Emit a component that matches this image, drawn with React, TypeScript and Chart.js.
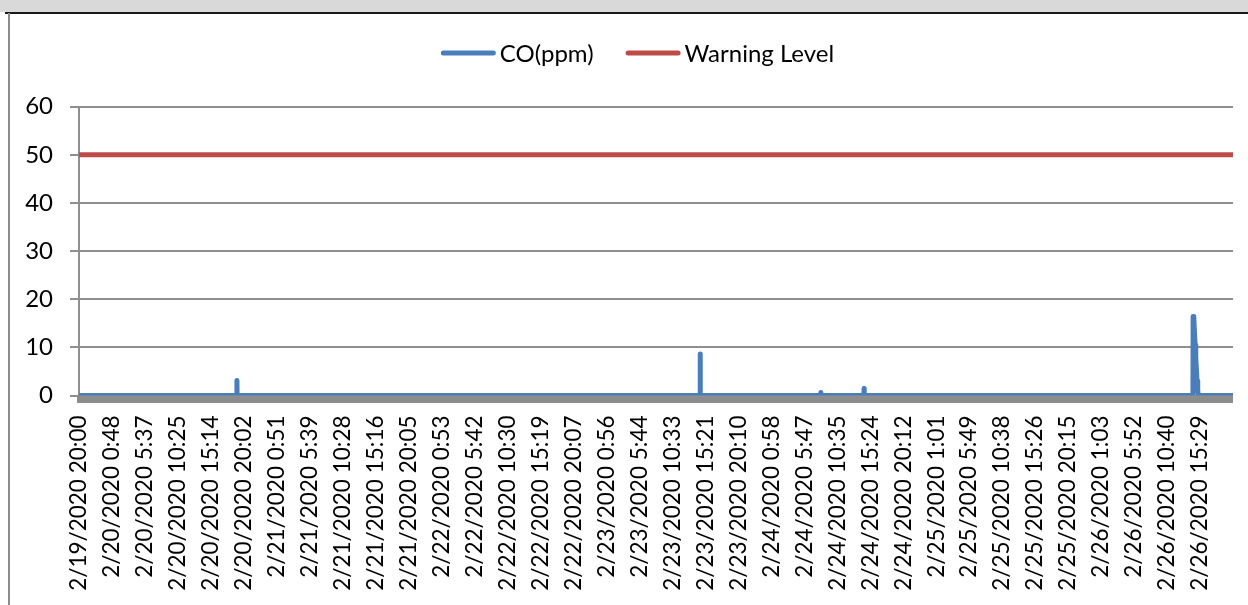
import React, { useEffect, useRef } from "react";
import { Chart, registerables } from "chart.js";

Chart.register(...registerables);

const tickLabels = [
  "2/19/2020 20:00", "2/20/2020 0:48", "2/20/2020 5:37", "2/20/2020 10:25", "2/20/2020 15:14",
  "2/20/2020 20:02", "2/21/2020 0:51", "2/21/2020 5:39", "2/21/2020 10:28", "2/21/2020 15:16",
  "2/21/2020 20:05", "2/22/2020 0:53", "2/22/2020 5:42", "2/22/2020 10:30", "2/22/2020 15:19",
  "2/22/2020 20:07", "2/23/2020 0:56", "2/23/2020 5:44", "2/23/2020 10:33", "2/23/2020 15:21",
  "2/23/2020 20:10", "2/24/2020 0:58", "2/24/2020 5:47", "2/24/2020 10:35", "2/24/2020 15:24",
  "2/24/2020 20:12", "2/25/2020 1:01", "2/25/2020 5:49", "2/25/2020 10:38", "2/25/2020 15:26",
  "2/25/2020 20:15", "2/26/2020 1:03", "2/26/2020 5:52", "2/26/2020 10:40", "2/26/2020 15:29",
];

// x positions in label-interval units (0 = first label)
const coX = [
  0, 4.785, 4.79, 4.795,
  18.835, 18.84, 18.845,
  22.49, 22.5, 22.51,
  23.805, 23.81, 23.815,
  33.785, 33.79, 33.81, 33.83, 33.85, 33.87, 33.89, 33.91, 33.93, 33.95,
  35,
];
const coY = [
  0, 0, 3.1, 0,
  0, 8.6, 0,
  0, 0.6, 0,
  0, 1.45, 0,
  0, 16.4, 16.3, 13.5, 10.5, 8, 5.5, 3, 1, 0,
  0,
];
const warnX = [0, 35];
const warnY = [50, 50];
const yTicks = [0, 10, 20, 30, 40, 50, 60];

const FONT = "Lato";
const FS = 24;
const XFS = 22.5;

const legendPlugin = {
  id: "excelLegend",
  afterDraw(chart: any) {
    const ctx = chart.ctx;
    const ds = chart.data.datasets;
    ctx.save();
    ctx.font = `${FS}px ${FONT}`;
    const lineLen = 55, gap = 4, itemGap = 32;
    const widths = ds.map((d: any) => lineLen + gap + ctx.measureText(d.label).width);
    const total = widths.reduce((a: number, b: number) => a + b, 0) + itemGap * (ds.length - 1);
    let x = 627.5 - total / 2;
    const y = 39;
    ds.forEach((d: any, i: number) => {
      ctx.strokeStyle = d.borderColor;
      ctx.lineWidth = 5;
      ctx.lineCap = "round";
      ctx.beginPath();
      ctx.moveTo(x + 2.5, y);
      ctx.lineTo(x + lineLen - 2.5, y);
      ctx.stroke();
      ctx.fillStyle = "#000";
      ctx.textBaseline = "middle";
      ctx.textAlign = "left";
      ctx.fillText(d.label, x + lineLen + gap, y + 1);
      x += widths[i] + itemGap;
    });
    ctx.restore();
  },
};

const axisBandPlugin = {
  id: "axisBand",
  beforeDatasetsDraw(chart: any) {
    const { ctx, chartArea } = chart;
    ctx.save();
    ctx.fillStyle = "#8c8c8c";
    ctx.fillRect(chartArea.left - 2, chartArea.bottom + 1.5, chartArea.right - chartArea.left + 2, 6);
    ctx.restore();
  },
};

export default function App() {
  const ref = useRef<HTMLCanvasElement>(null);

  useEffect(() => {
    if (!ref.current) return;
    const chart = new Chart(ref.current, {
      type: "line",
      data: {
        datasets: [
          {
            label: "CO(ppm)",
            data: coX.map((x, i) => ({ x, y: coY[i] })),
            borderColor: "#4a7ebb",
            backgroundColor: "#4a7ebb",
            borderWidth: 5,
            pointRadius: 0,
            borderJoinStyle: "round",
            borderCapStyle: "round",
            tension: 0,
          },
          {
            label: "Warning Level",
            data: warnX.map((x, i) => ({ x, y: warnY[i] })),
            borderColor: "#be4b48",
            backgroundColor: "#be4b48",
            borderWidth: 5,
            pointRadius: 0,
            borderCapStyle: "butt",
          },
        ],
      },
      options: {
        animation: false,
        responsive: false,
        devicePixelRatio: 1,
        layout: { padding: { top: 92.7, right: 15, left: 0, bottom: 0 } },
        plugins: {
          legend: { display: false },
          tooltip: { enabled: false },
        },
        scales: {
          x: {
            type: "linear",
            min: 0,
            max: 35,
            afterBuildTicks: (scale: any) => {
              scale.ticks = tickLabels.map((_, i) => ({ value: i }));
            },
            afterFit: (scale: any) => {
              scale.height = 209.5;
            },
            grid: { display: false, drawTicks: false },
            border: { display: false },
            ticks: {
              autoSkip: false,
              maxRotation: 90,
              minRotation: 90,
              padding: 20,
              color: "#000",
              font: { family: FONT, size: XFS },
              callback: (v: any) => tickLabels[v] ?? "",
            },
          },
          y: {
            min: 0,
            max: 60,
            afterBuildTicks: (scale: any) => {
              scale.ticks = yTicks.map((v) => ({ value: v }));
            },
            afterFit: (scale: any) => {
              scale.width = 69;
            },
            grid: { color: "#8f8f8f", lineWidth: 2, tickLength: 9 },
            border: { color: "#8f8f8f", width: 2 },
            ticks: {
              padding: 17,
              crossAlign: "near",
              color: "#000",
              font: { family: FONT, size: FS },
            },
          },
        },
      },
      plugins: [axisBandPlugin, legendPlugin],
    } as any);
    return () => chart.destroy();
  }, []);

  return (
    <div style={{ position: "fixed", left: 0, top: 0, width: 1248, height: 605, background: "#fff", overflow: "hidden" }}>
      <div style={{ position: "absolute", left: 0, top: 0, width: 1248, height: 12, background: "#d9d9d9" }} />
      <div style={{ position: "absolute", left: 5, top: 12, width: 1243, height: 1.5, background: "#1a1a1a" }} />
      <div style={{ position: "absolute", left: 8, top: 13, width: 2, height: 592, background: "#8c8c8c" }} />
      <canvas ref={ref} width={1238} height={591} style={{ position: "absolute", left: 10, top: 14, width: 1238, height: 591 }} />
    </div>
  );
}
